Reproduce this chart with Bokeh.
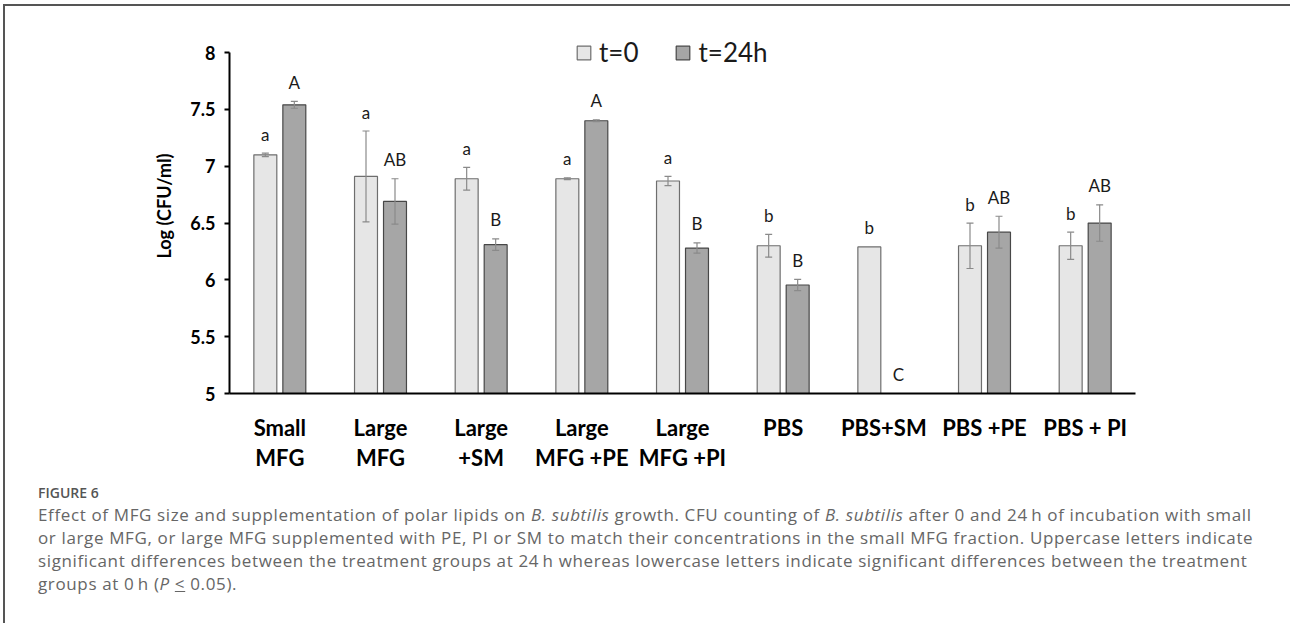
from bokeh.plotting import figure
from bokeh.models import (ColumnDataSource, Legend, LegendItem, CategoricalAxis,
                          FixedTicker, NumeralTickFormatter, Div, Range1d, FactorRange,
                          CustomJSTickFormatter)
from bokeh.transform import dodge
from bokeh.layouts import column
from bokeh.embed import file_html
from bokeh.resources import INLINE
from bokeh.core.properties import value

# ---------------- data ----------------
groups = ["Small MFG", "Large MFG", "Large +SM", "Large MFG +PE", "Large MFG +PI",
          "PBS", "PBS+SM", "PBS +PE", "PBS + PI"]
label_line1 = ["Small", "Large", "Large", "Large", "Large", "PBS", "PBS+SM", "PBS +PE", "PBS + PI"]
label_line2 = ["MFG", "MFG", "+SM", "MFG +PE", "MFG +PI", "", "", "", ""]

t0_values = [7.10, 6.91, 6.89, 6.89, 6.87, 6.30, 6.29, 6.30, 6.30]
t0_errors = [0.015, 0.40, 0.10, 0.008, 0.04, 0.10, 0.0, 0.20, 0.12]
t24_values = [7.54, 6.69, 6.31, 7.40, 6.28, 5.955, 5.0, 6.42, 6.50]
t24_errors = [0.03, 0.20, 0.05, 0.008, 0.045, 0.05, 0.0, 0.14, 0.16]
t0_letters = ["a", "a", "a", "a", "a", "b", "b", "b", "b"]
t24_letters = ["A", "AB", "B", "A", "B", "B", "C", "AB", "AB"]
series_names = ["t=0", "t=24h"]
y_ticks = [5, 5.5, 6, 6.5, 7, 7.5, 8]
y_label = "Log (CFU/ml)"

caption_head = "FIGURE 6"
caption_lines = [
    "Effect of MFG size and supplementation of polar lipids on <i>B. subtilis</i> growth. CFU counting of "
    "<i>B. subtilis</i> after 0 and 24\u2009h of incubation with small",
    "or large MFG, or large MFG supplemented with PE, PI or SM to match their concentrations in the small "
    "MFG fraction. Uppercase letters indicate",
    "significant differences between the treatment groups at 24\u2009h whereas lowercase letters indicate "
    "significant differences between the treatment",
    "groups at 0\u2009h (<i>P</i> <u>&lt;</u> 0.05).",
]

# ---------------- styling ----------------
LIGHT_FILL, LIGHT_LINE = "#e6e6e6", "#6e6e6e"
DARK_FILL, DARK_LINE = "#a6a6a6", "#474747"
ERR_COLOR = "#8a8a8a"
FONT = "Lato"
OFF = 0.144
BW = 0.228

p = figure(x_range=FactorRange(factors=groups), y_range=Range1d(5, 8.3),
           width=1281, height=473, output_backend="svg", toolbar_location=None,
           min_border_left=224, min_border_right=151, min_border_top=12, min_border_bottom=86)
p.outline_line_color = None
p.xgrid.grid_line_color = None
p.ygrid.grid_line_color = None
p.background_fill_color = "white"
p.border_fill_color = "white"


def series(vals, errs, letters):
    lo = [v - e for v, e in zip(vals, errs)]
    hi = [v + e for v, e in zip(vals, errs)]
    main = ColumnDataSource(dict(g=groups, top=vals, hi=hi, lab=letters))
    keep = [i for i, e in enumerate(errs) if e > 0]
    err = ColumnDataSource(dict(g=[groups[i] for i in keep], lo=[lo[i] for i in keep],
                                hi=[hi[i] for i in keep]))
    return main, err


src0, err0 = series(t0_values, t0_errors, t0_letters)
src24, err24 = series(t24_values, t24_errors, t24_letters)

renderers = []
for src, err, off, fill, line in [(src0, err0, -OFF, LIGHT_FILL, LIGHT_LINE),
                                  (src24, err24, OFF, DARK_FILL, DARK_LINE)]:
    xs = dodge("g", off, range=p.x_range)
    r = p.vbar(x=xs, top="top", bottom=5, width=BW, source=src,
               fill_color=fill, line_color=line, line_width=1.2)
    renderers.append(r)
    p.segment(x0=xs, x1=xs, y0="lo", y1="hi", source=err, line_color=ERR_COLOR, line_width=1.2)
    p.dash(x=xs, y="hi", size=7, source=err, line_color=ERR_COLOR, line_width=1.2)
    p.dash(x=xs, y="lo", size=7, source=err, line_color=ERR_COLOR, line_width=1.2)
    p.text(x=xs, y="hi", text="lab", source=src, y_offset=-19,
           text_align="center", text_baseline="middle",
           text_font=value(FONT), text_font_size="17px", text_color="#1a1a1a")

# y axis
yax = p.yaxis[0]
yax.bounds = (5, 8)
yax.ticker = FixedTicker(ticks=y_ticks)
yax.formatter = NumeralTickFormatter(format="0.[0]")
yax.minor_tick_line_color = None
yax.major_tick_in = 0
yax.major_tick_out = 5
yax.major_tick_line_width = 2
yax.axis_line_width = 2
yax.axis_line_color = "black"
yax.major_tick_line_color = "black"
yax.major_label_text_font = FONT
yax.major_label_text_font_style = "bold"
yax.major_label_text_font_size = "18px"
yax.major_label_text_color = "black"
yax.major_label_standoff = 9
yax.axis_label = y_label
yax.axis_label_text_font = FONT
yax.axis_label_text_font_style = "bold"
yax.axis_label_text_font_size = "18px"
yax.axis_label_text_color = "black"
yax.axis_label_standoff = 12


def line_formatter(lines):
    return CustomJSTickFormatter(args=dict(names=groups, lines=lines),
                                 code="const i = names.indexOf(tick); return i >= 0 ? lines[i] : '';")


# x axes (two label lines)
xax = p.xaxis[0]
xax.formatter = line_formatter(label_line1)
xax.axis_line_width = 2
xax.axis_line_color = "black"
xax.major_tick_line_color = None
xax.major_tick_out = 0
xax.major_tick_in = 0
xax.minor_tick_line_color = None
xax.major_label_text_font = FONT
xax.major_label_text_font_style = "bold"
xax.major_label_text_font_size = "22px"
xax.major_label_text_color = "black"
xax.major_label_standoff = 20

xax2 = CategoricalAxis(formatter=line_formatter(label_line2))
xax2.axis_line_color = None
xax2.major_tick_line_color = None
xax2.major_tick_out = 0
xax2.major_tick_in = 0
xax2.minor_tick_line_color = None
xax2.major_label_text_font = FONT
xax2.major_label_text_font_style = "bold"
xax2.major_label_text_font_size = "22px"
xax2.major_label_text_color = "black"
xax2.major_label_standoff = 0
p.add_layout(xax2, "below")

legend = Legend(items=[LegendItem(label=series_names[0], renderers=[renderers[0]]),
                       LegendItem(label=series_names[1], renderers=[renderers[1]])],
                orientation="horizontal", location=(346, 325),
                glyph_width=17, glyph_height=17, label_standoff=7, spacing=36,
                padding=0, margin=0, border_line_color=None, background_fill_alpha=0,
                label_text_font=FONT, label_text_font_size="26px", label_text_color="#1a1a1a")
p.add_layout(legend, "center")

html = ('<div style="font-family:\'Open Sans\',sans-serif;color:#666666;padding:1px 0 0 28px;">'
        f'<div style="font-size:14px;line-height:16px;font-weight:600;color:#555555;">{caption_head}</div>'
        '<div style="font-size:17px;letter-spacing:0.63px;line-height:23px;margin-top:2px;white-space:nowrap;">'
        + "<br>".join(caption_lines) + '</div></div>')
div = Div(text=html, width=1281, height=138)

layout = column(p, div, styles={"margin": "4px 0 0 3px",
                                "border-top": "2px solid #555555",
                                "border-left": "2px solid #555555",
                                "border-right": "2px solid #555555"})

open("out.html", "w").write(file_html(layout, INLINE))
